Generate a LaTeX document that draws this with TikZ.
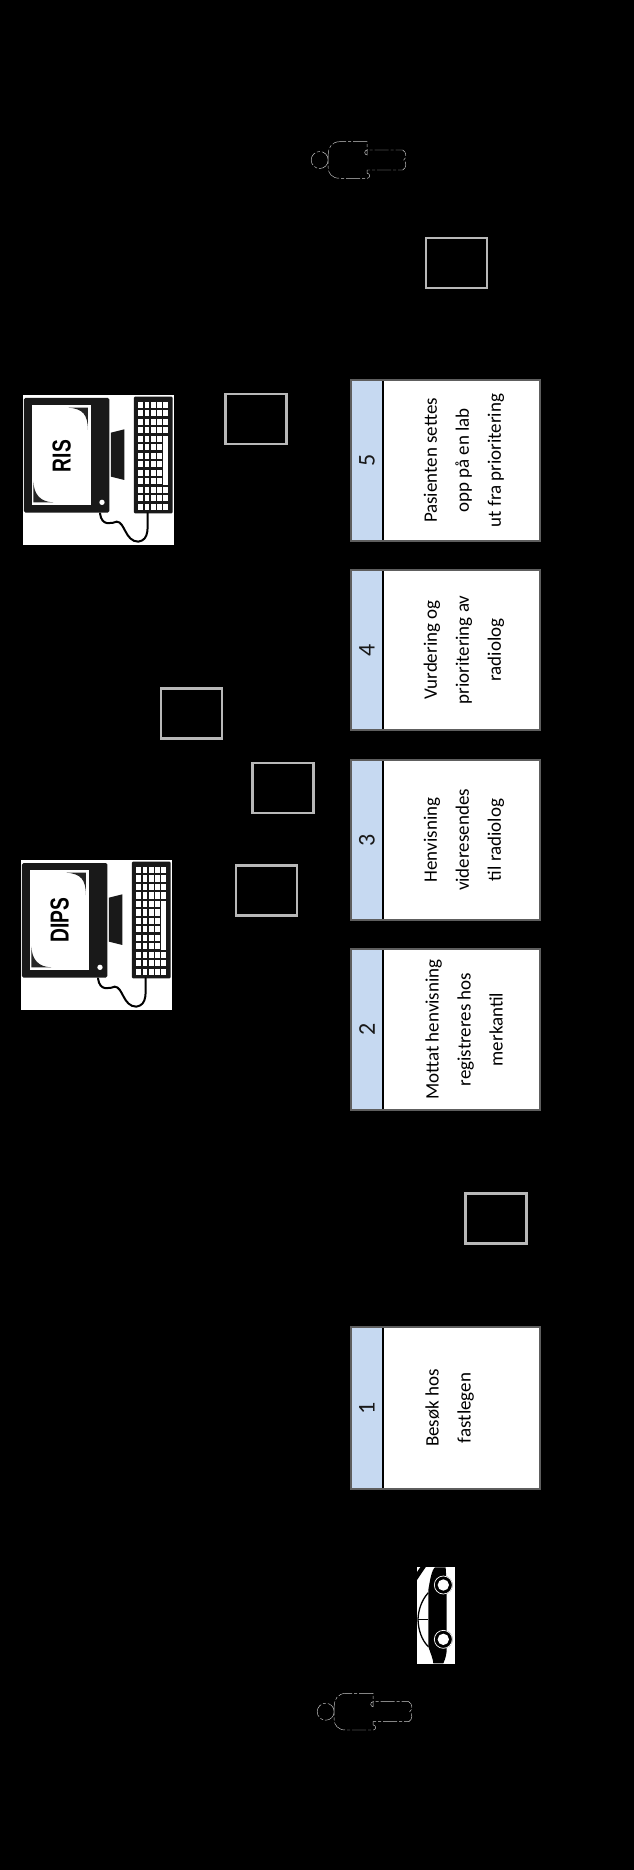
\documentclass[tikz,border=0pt]{standalone}
\usepackage{graphicx}
\usepackage{fontspec}
\setmainfont{Carlito}
\newfontfamily\arialfont{Liberation Sans}
\definecolor{hdrblue}{HTML}{C6D9F1}
\definecolor{frameg}{HTML}{5E5E5E}
\definecolor{grayb}{HTML}{B8B8B8}
\tikzset{
  stepframe/.style={draw=frameg,line width=1.6pt,fill=white},
  stephead/.style={draw=none,fill=hdrblue},
  steptext/.style={rotate=90,align=center,font=\fontsize{19}{32}\selectfont,inner sep=0pt},
  stepnum/.style={rotate=90,font=\fontsize{24}{26}\selectfont,inner sep=0pt,text=black!90},
  emptybox/.style={draw=grayb,line width=2.2pt},
  figline/.style={draw=white!80!black,line width=.45pt,dash pattern=on 14pt off 2pt on 3pt off 2pt,fill=black},
}
\newcommand{\compicon}[4]{%
  \begin{scope}[shift={(#1,#2)},x=.3333pt,y=-.3333pt]
    \fill[white] (69,75) rectangle (522,525);
    \fill[black!90,rounded corners=1.5pt] (72,84) rectangle (328,428);
    \fill[white] (95,106) rectangle (272,405);
    \fill[black!85] (205,113) -- (264,113) -- (264,180) .. controls (263,135) and (250,116) .. cycle;
    \fill[black!85] (100,335) -- (100,397) -- (160,397) .. controls (120,396) and (102,372) .. cycle;
    \fill[white] (306,397) circle (8);
    \fill[black!90] (333,188) -- (373,178) -- (373,330) -- (333,320) -- cycle;
    \fill[black!90,rounded corners=1pt] (402,80) rectangle (518,430);
    \foreach \kx in {415,434,453,471,490} \foreach \kr in {0,...,12}
      \fill[white] (\kx,95+25.5*\kr) rectangle ++(14,19);
    \fill[white] (490,205) rectangle (504,345);
    \draw[black,line width=2pt,line cap=round] (300,430) .. controls (305,470) and (335,460) .. (350,455)
      .. controls (375,455) and (375,515) .. (415,515) .. controls (450,510) and (442,470) .. (443,430);
    \node[rotate=90,inner sep=0pt] (#3) at (185,#4) {\scalebox{.74}[1]{\arialfont\bfseries\fontsize{26}{28}\selectfont #3}};
  \end{scope}}
\newcommand{\personicon}[2]{%
  \begin{scope}[shift={(#1,#2)}]
    \draw[figline] (0,0) circle (8.5);
    \draw[figline] (47.5,-18.3) -- (20,-18.3) .. controls (12,-18.3) and (8.5,-12) .. (8.5,-6) -- (8.5,8)
      .. controls (8.5,13) and (12,18.3) .. (20,18.3) -- (47.5,18.3)
      arc (90:-90:2.5 and 2.5) -- (47.5,13.3) -- (47.5,10) -- (83,10)
      .. controls (87,8) and (87,2) .. (84,0) .. controls (87,-2) and (87,-8) .. (83,-10) -- (47.5,-10)
      arc (90:-90:-2.5 and -2.5) -- cycle;
  \end{scope}}
\begin{document}
\begin{tikzpicture}[x=1pt,y=-1pt]
  \useasboundingbox (0,0) rectangle (634,1870);
  \fill[black] (0,0) rectangle (634,1870);

  % steps
  \foreach \nm/\ytop/\ybot in {s5/380/541,s4/570/730,s3/760/920,s2/949/1110,s1/1327/1489}{
    \draw[stepframe] (351,\ytop) rectangle (540,\ybot);
    \fill[stephead] (352,\ytop) rectangle (382,\ybot);
    \draw[black,line width=1.8pt] (383,\ytop) -- (383,\ybot);
    \draw[frameg,line width=1.6pt] (351,\ytop) rectangle (540,\ybot);
  }
  \node[stepnum] (n5) at (367,460.5) {5};
  \node[stepnum] (n4) at (367,650) {4};
  \node[stepnum] (n3) at (367,840) {3};
  \node[stepnum] (n2) at (367,1029.5) {2};
  \node[stepnum] (n1) at (367,1408) {1};
  \node[steptext] (t5) at (464,460.5) {Pasienten settes\\opp på en lab\\ut fra prioritering};
  \node[steptext] (t4) at (464,650) {Vurdering og\\prioritering av\\radiolog};
  \node[steptext] (t3) at (464,840) {Henvisning\\videresendes\\til radiolog};
  \node[steptext] (t2) at (464,1029.5) {Mottat henvisning\\registreres hos\\merkantil};
  \node[steptext] (t1) at (464,1408) {Besøk hos\\fastlegen\\~};

  % empty grey boxes
  \node[emptybox,minimum width=61pt,minimum height=50pt,inner sep=0pt] (b1) at (456.5,263) {};
  \node[emptybox,minimum width=61pt,minimum height=50pt,inner sep=0pt] (b2) at (256,419) {};
  \node[emptybox,minimum width=61pt,minimum height=50pt,inner sep=0pt] (b3) at (191.5,713.5) {};
  \node[emptybox,minimum width=61pt,minimum height=50pt,inner sep=0pt] (b4) at (283,788) {};
  \node[emptybox,minimum width=61pt,minimum height=50pt,inner sep=0pt] (b5) at (266.5,890.5) {};
  \node[emptybox,minimum width=61pt,minimum height=50pt,inner sep=0pt] (b6) at (496,1218.5) {};

  % computers
  \compicon{0}{370}{RIS}{258}
  \compicon{-2}{835}{DIPS}{255}

  % persons
  \personicon{319.7}{160}
  \personicon{325.7}{1711.7}

  % car
  \begin{scope}[shift={(300,1550)},x=.3333pt,y=-.3333pt]
    \fill[white] (351,50) rectangle (465,342);
    \fill[black] (351,90) -- (378,50) -- (362,50) -- (351,66) -- cycle;
    \fill[black] (437,52) -- (405,52) .. controls (395,60) and (390,90) .. (385,120) -- (385,290)
      .. controls (392,310) and (400,330) .. (400,340) -- (430,340) .. controls (437,325) and (440,310) .. (440,300) -- (440,100) -- cycle;
    \draw[black,line width=1.3pt] (385,128) .. controls (365,150) and (355,180) .. (354,208) .. controls (355,240) and (365,270) .. (385,290);
    \draw[black,line width=1.3pt] (354,208) -- (385,208);
    \foreach \wy in {105,268}{
      \fill[black] (430,\wy) circle (28);
      \draw[white,line width=.7pt] (430,\wy) circle (27);
      \fill[white] (430,\wy) circle (17);
    }
  \end{scope}
\end{tikzpicture}
\end{document}
